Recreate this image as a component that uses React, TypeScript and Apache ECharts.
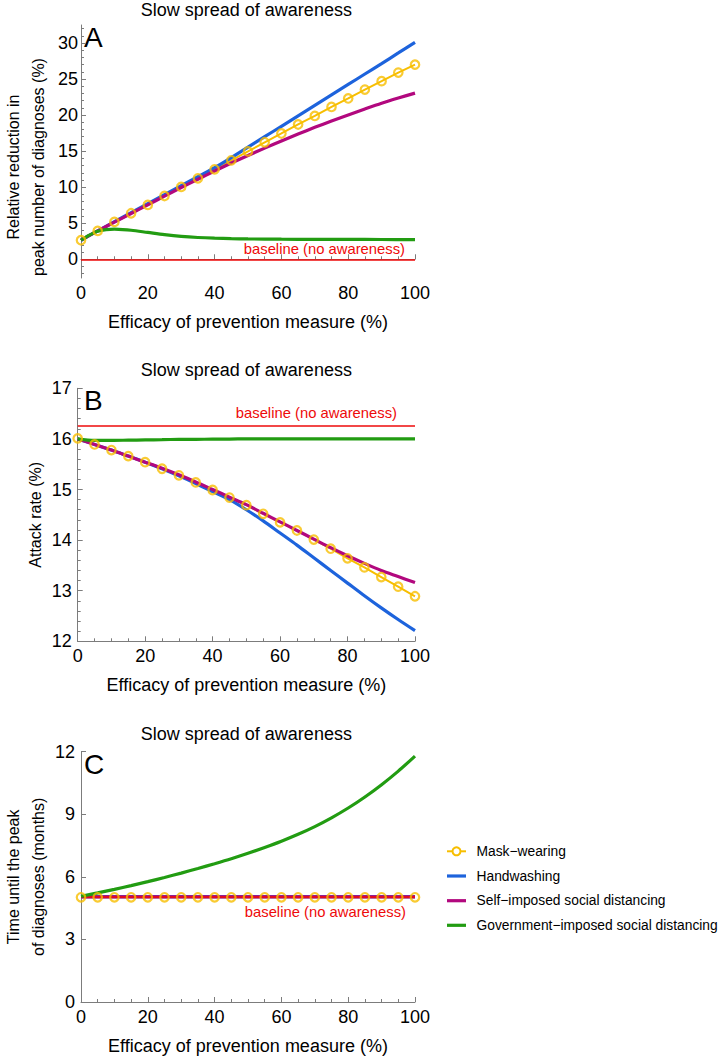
import React, { useEffect, useRef } from "react";
import * as echarts from "echarts";

// ---------- data ----------
const efficacy = [0, 5, 10, 15, 20, 25, 30, 35, 40, 45, 50, 55, 60, 65, 70, 75, 80, 85, 90, 95, 100];
const efficacyFine = [0, 2.5, 5, 7.5, 10, 12.5, 15, 20, 25, 30, 35, 40, 45, 50, 60, 70, 80, 90, 100];

// Panel A: relative reduction in peak number of diagnoses (%)
const peakMask = [2.64, 3.93, 5.18, 6.38, 7.54, 8.78, 10.03, 11.23, 12.48, 13.73, 14.96, 16.23, 17.45, 18.7, 19.88, 21.13, 22.31, 23.54, 24.71, 25.9, 27.0];
const peakHand = [2.64, 3.93, 5.2, 6.45, 7.7, 8.95, 10.2, 11.45, 12.7, 14.1, 15.55, 17.0, 18.45, 19.9, 21.35, 22.8, 24.25, 25.7, 27.15, 28.62, 30.1];
const peakSelf = [2.64, 3.93, 5.15, 6.35, 7.55, 8.75, 9.95, 11.1, 12.25, 13.35, 14.4, 15.42, 16.4, 17.37, 18.3, 19.18, 20.02, 20.85, 21.65, 22.37, 23.05];
const peakGov = [2.64, 3.35, 3.9, 4.12, 4.17, 4.12, 4.02, 3.72, 3.42, 3.18, 3.02, 2.92, 2.86, 2.82, 2.78, 2.76, 2.75, 2.74, 2.73];
const peakBaseline = 0;

// Panel B: attack rate (%)
const attackMask = [16.01, 15.89, 15.78, 15.66, 15.54, 15.41, 15.28, 15.14, 14.99, 14.84, 14.69, 14.52, 14.35, 14.19, 14.01, 13.83, 13.64, 13.46, 13.27, 13.08, 12.89];
const attackHand = [16.0, 15.89, 15.78, 15.66, 15.54, 15.41, 15.27, 15.12, 14.96, 14.8, 14.6, 14.38, 14.14, 13.9, 13.65, 13.4, 13.15, 12.9, 12.66, 12.43, 12.21];
const attackSelf = [16.0, 15.89, 15.78, 15.66, 15.54, 15.42, 15.29, 15.15, 15.0, 14.85, 14.7, 14.53, 14.36, 14.19, 14.02, 13.85, 13.69, 13.54, 13.4, 13.28, 13.16];
const attackGov = [16.0, 15.97, 15.97, 15.975, 15.98, 15.985, 15.99, 15.992, 15.995, 15.997, 16.0, 16.0, 16.0, 16.0, 16.0, 16.0, 16.0, 16.0, 16.0, 16.0, 16.0];
const attackBaseline = 16.26;

// Panel C: time until the peak of diagnoses (months)
const timeMask = [5.02, 5.02, 5.02, 5.02, 5.02, 5.02, 5.02, 5.02, 5.02, 5.02, 5.02, 5.02, 5.02, 5.02, 5.02, 5.02, 5.02, 5.02, 5.02, 5.02, 5.02];
const timeHand = [5.05, 5.05, 5.05, 5.05, 5.05, 5.05, 5.05, 5.05, 5.05, 5.05, 5.05, 5.05, 5.05, 5.05, 5.05, 5.05, 5.05, 5.05, 5.05, 5.05, 5.05];
const timeSelf = [5.04, 5.04, 5.04, 5.04, 5.04, 5.04, 5.04, 5.04, 5.04, 5.04, 5.04, 5.04, 5.04, 5.04, 5.04, 5.04, 5.04, 5.04, 5.04, 5.04, 5.04];
const timeGov = [5.07, 5.23, 5.4, 5.58, 5.77, 5.97, 6.18, 6.4, 6.63, 6.87, 7.13, 7.41, 7.71, 8.04, 8.41, 8.83, 9.3, 9.83, 10.42, 11.07, 11.79];
const timeBaseline = 5.06;

// ticks
const xTicks = { min: 0, max: 100, interval: 20 };
const peakTicks = [0, 5, 10, 15, 20, 25, 30];
const peakRange = [-2.6, 32.5];
const attackRange = [12, 17];
const timeRange = [0, 12];

const seriesNames = [
  "Mask\u2212wearing",
  "Handwashing",
  "Self\u2212imposed social distancing",
  "Government\u2212imposed social distancing",
];
const panelTitle = "Slow spread of awareness";
const panelLetters = ["A", "B", "C"];
const baselineText = "baseline (no awareness)";
const xName = "Efficacy of prevention measure (%)";
const yNames = [
  "Relative reduction in\npeak number of diagnoses (%)",
  "Attack rate (%)",
  "Time until the peak\nof diagnoses (months)",
];

// ---------- styles ----------
const YELLOW = "#F7BE00";
const BLUE = "#1D63DC";
const MAGENTA = "#B2087E";
const GREEN = "#229C12";
const RED = "#EE0A0A";
const AXIS = "#7c7c7c";
const FONT = "'Liberation Sans', Arial, Helvetica, sans-serif";

const GRID_LEFT = 77.7;
const GRID_RIGHT = 415;
const GRID_TOPS = [25, 388.3, 751.7];
const GRID_H = 253;
const TITLE_Y = [9.5, 370.3, 733.7];

const pair = (xs: number[], ys: number[]) => xs.map((x, i) => [x, ys[i]]);

export default function App() {
  const ref = useRef<HTMLDivElement>(null);

  useEffect(() => {
    if (!ref.current) return;
    const chart = echarts.init(ref.current, undefined, { renderer: "svg" });

    const grids = GRID_TOPS.map((t) => ({
      left: GRID_LEFT,
      top: t,
      width: GRID_RIGHT - GRID_LEFT,
      height: GRID_H,
      containLabel: false,
    }));

    const xAxes = [0, 1, 2].map((g) => ({
      type: "value",
      gridIndex: g,
      min: xTicks.min,
      max: xTicks.max,
      interval: xTicks.interval,
      name: xName,
      nameLocation: "middle",
      nameGap: 35,
      nameTextStyle: { fontSize: 18, color: "#000", fontFamily: FONT },
      axisLine: { show: true, lineStyle: { color: AXIS, width: 1 } },
      axisTick: { show: true, inside: true, length: 5, lineStyle: { color: AXIS } },
      minorTick: { show: true, splitNumber: 4, length: 3, lineStyle: { color: AXIS } },
      axisLabel: { fontSize: 18, color: "#000", margin: 6, fontFamily: FONT },
      splitLine: { show: false },
      minorSplitLine: { show: false },
    }));

    const peakMinor = Array.from({ length: 35 }, (_, k) => k - 2).filter((v) => v % 5 !== 0);

    const yNameStyle = (pad: number[]) => ({
      fontSize: 16,
      lineHeight: 25,
      color: "#000",
      fontFamily: FONT,
      padding: pad,
    });

    const yAxes: any[] = [
      {
        type: "value",
        gridIndex: 0,
        min: peakRange[0],
        max: peakRange[1],
        name: yNames[0],
        nameLocation: "middle",
        nameGap: 30,
        nameTextStyle: yNameStyle([0, 31, 0, 0]),
        axisLine: { show: true, lineStyle: { color: AXIS } },
        axisTick: { show: true, inside: true, length: 5, customValues: peakTicks, lineStyle: { color: AXIS } },
        axisLabel: { customValues: peakTicks, fontSize: 18, color: "#000", margin: 3, fontFamily: FONT },
        splitLine: { show: false },
      },
      {
        type: "value",
        gridIndex: 0,
        position: "left",
        offset: 0,
        min: peakRange[0],
        max: peakRange[1],
        axisLine: { show: false },
        axisTick: { show: true, inside: true, length: 3, customValues: peakMinor, lineStyle: { color: AXIS } },
        axisLabel: { show: false },
        splitLine: { show: false },
      },
      {
        type: "value",
        gridIndex: 1,
        min: attackRange[0],
        max: attackRange[1],
        interval: 1,
        name: yNames[1],
        nameLocation: "middle",
        nameGap: 30,
        nameTextStyle: yNameStyle([0, 0, 0, 0]),
        axisLine: { show: true, lineStyle: { color: AXIS } },
        axisTick: { show: true, inside: true, length: 5, lineStyle: { color: AXIS } },
        minorTick: { show: true, splitNumber: 5, length: 3, lineStyle: { color: AXIS } },
        axisLabel: { fontSize: 18, color: "#000", margin: 6, fontFamily: FONT },
        splitLine: { show: false },
        minorSplitLine: { show: false },
      },
      {
        type: "value",
        gridIndex: 2,
        min: timeRange[0],
        max: timeRange[1],
        interval: 3,
        name: yNames[2],
        nameLocation: "middle",
        nameGap: 30,
        nameTextStyle: yNameStyle([0, 0, 0, 0]),
        axisLine: { show: true, lineStyle: { color: AXIS } },
        axisTick: { show: true, inside: true, length: 5, lineStyle: { color: AXIS } },
        axisLabel: { fontSize: 18, color: "#000", margin: 6, fontFamily: FONT },
        splitLine: { show: false },
      },
    ];
    const yMain = [0, 2, 3];

    const panels = [
      { mask: peakMask, hand: peakHand, self: peakSelf, gov: pair(efficacyFine, peakGov), base: peakBaseline, pos: "insideEndTop", dist: [10, 3] },
      { mask: attackMask, hand: attackHand, self: attackSelf, gov: pair(efficacy, attackGov), base: attackBaseline, pos: "insideEndTop", dist: [18, 5] },
      { mask: timeMask, hand: timeHand, self: timeSelf, gov: pair(efficacy, timeGov), base: timeBaseline, pos: "insideEndBottom", dist: [9, 8] },
    ];

    const series: any[] = [];
    panels.forEach((p, i) => {
      const common = { xAxisIndex: i, yAxisIndex: yMain[i], animation: false, silent: true };
      const maskData = pair(efficacy, p.mask);
      // connecting line of mask-wearing (under the other curves)
      series.push({
        ...common,
        type: "line",
        name: seriesNames[0],
        data: maskData,
        symbol: "none",
        lineStyle: { color: YELLOW, width: 2 },
        itemStyle: { color: YELLOW },
        z: 2,
      });
      series.push({
        ...common,
        type: "line",
        name: seriesNames[1],
        data: pair(efficacy, p.hand),
        symbol: "none",
        smooth: 0.3,
        lineStyle: { color: BLUE, width: 3.2 },
        itemStyle: { color: BLUE },
        z: 3,
      });
      series.push({
        ...common,
        type: "line",
        name: seriesNames[2],
        data: pair(efficacy, p.self),
        symbol: "none",
        smooth: 0.3,
        lineStyle: { color: MAGENTA, width: 3.2 },
        itemStyle: { color: MAGENTA },
        z: 4,
      });
      series.push({
        ...common,
        type: "line",
        name: seriesNames[3],
        data: p.gov,
        symbol: "none",
        smooth: 0.3,
        lineStyle: { color: GREEN, width: 3.2 },
        itemStyle: { color: GREEN },
        z: 5,
      });
      series.push({
        ...common,
        type: "line",
        name: "baseline",
        data: [],
        z: 6,
        markLine: {
          silent: true,
          animation: false,
          symbol: ["none", "none"],
          lineStyle: { color: RED, width: 1.5, type: "solid" },
          label: {
            show: true,
            position: p.pos,
            distance: p.dist,
            formatter: baselineText,
            color: RED,
            fontSize: 14.8,
            fontFamily: FONT,
          },
          data: [{ yAxis: p.base }],
        },
      });
      // hollow markers of mask-wearing, on top
      series.push({
        ...common,
        type: "scatter",
        name: seriesNames[0] + " markers",
        data: maskData,
        symbol: "circle",
        symbolSize: 8.5,
        itemStyle: { color: "rgba(255,255,255,0)", borderColor: YELLOW, borderWidth: 2.2 },
        z: 7,
      });
    });

    const graphic: any[] = [];
    GRID_TOPS.forEach((t, i) => {
      graphic.push({
        type: "text",
        x: (GRID_LEFT + GRID_RIGHT) / 2,
        y: TITLE_Y[i],
        style: {
          text: panelTitle,
          font: `18px ${FONT}`,
          fill: "#000",
          textAlign: "center",
          textVerticalAlign: "middle",
        },
      });
      graphic.push({
        type: "text",
        x: 84,
        y: t + 12.5,
        style: {
          text: panelLetters[i],
          font: `28px ${FONT}`,
          fill: "#000",
          textAlign: "left",
          textVerticalAlign: "middle",
        },
      });
    });

    // legend
    const legendY = [851.3, 876, 900.7, 925.3];
    const legendColors = [YELLOW, BLUE, MAGENTA, GREEN];
    legendY.forEach((y, i) => {
      graphic.push({
        type: "line",
        shape: { x1: 447, y1: y, x2: 466, y2: y },
        style: { stroke: legendColors[i], lineWidth: i === 0 ? 2 : 3.2 },
      });
      if (i === 0) {
        graphic.push({
          type: "circle",
          shape: { cx: 456.5, cy: y, r: 4 },
          style: { fill: "#fff", stroke: YELLOW, lineWidth: 2 },
        });
      }
      graphic.push({
        type: "text",
        x: 476.5,
        y: y,
        style: {
          text: seriesNames[i],
          font: `13.8px ${FONT}`,
          fill: "#000",
          textAlign: "left",
          textVerticalAlign: "middle",
        },
      });
    });

    chart.setOption({
      animation: false,
      backgroundColor: "#fff",
      textStyle: { fontFamily: FONT },
      grid: grids,
      xAxis: xAxes,
      yAxis: yAxes,
      series,
      graphic,
    });

    return () => chart.dispose();
  }, []);

  return (
    <div
      ref={ref}
      style={{ position: "absolute", left: 0, top: 0, width: 720, height: 1056 }}
    />
  );
}
